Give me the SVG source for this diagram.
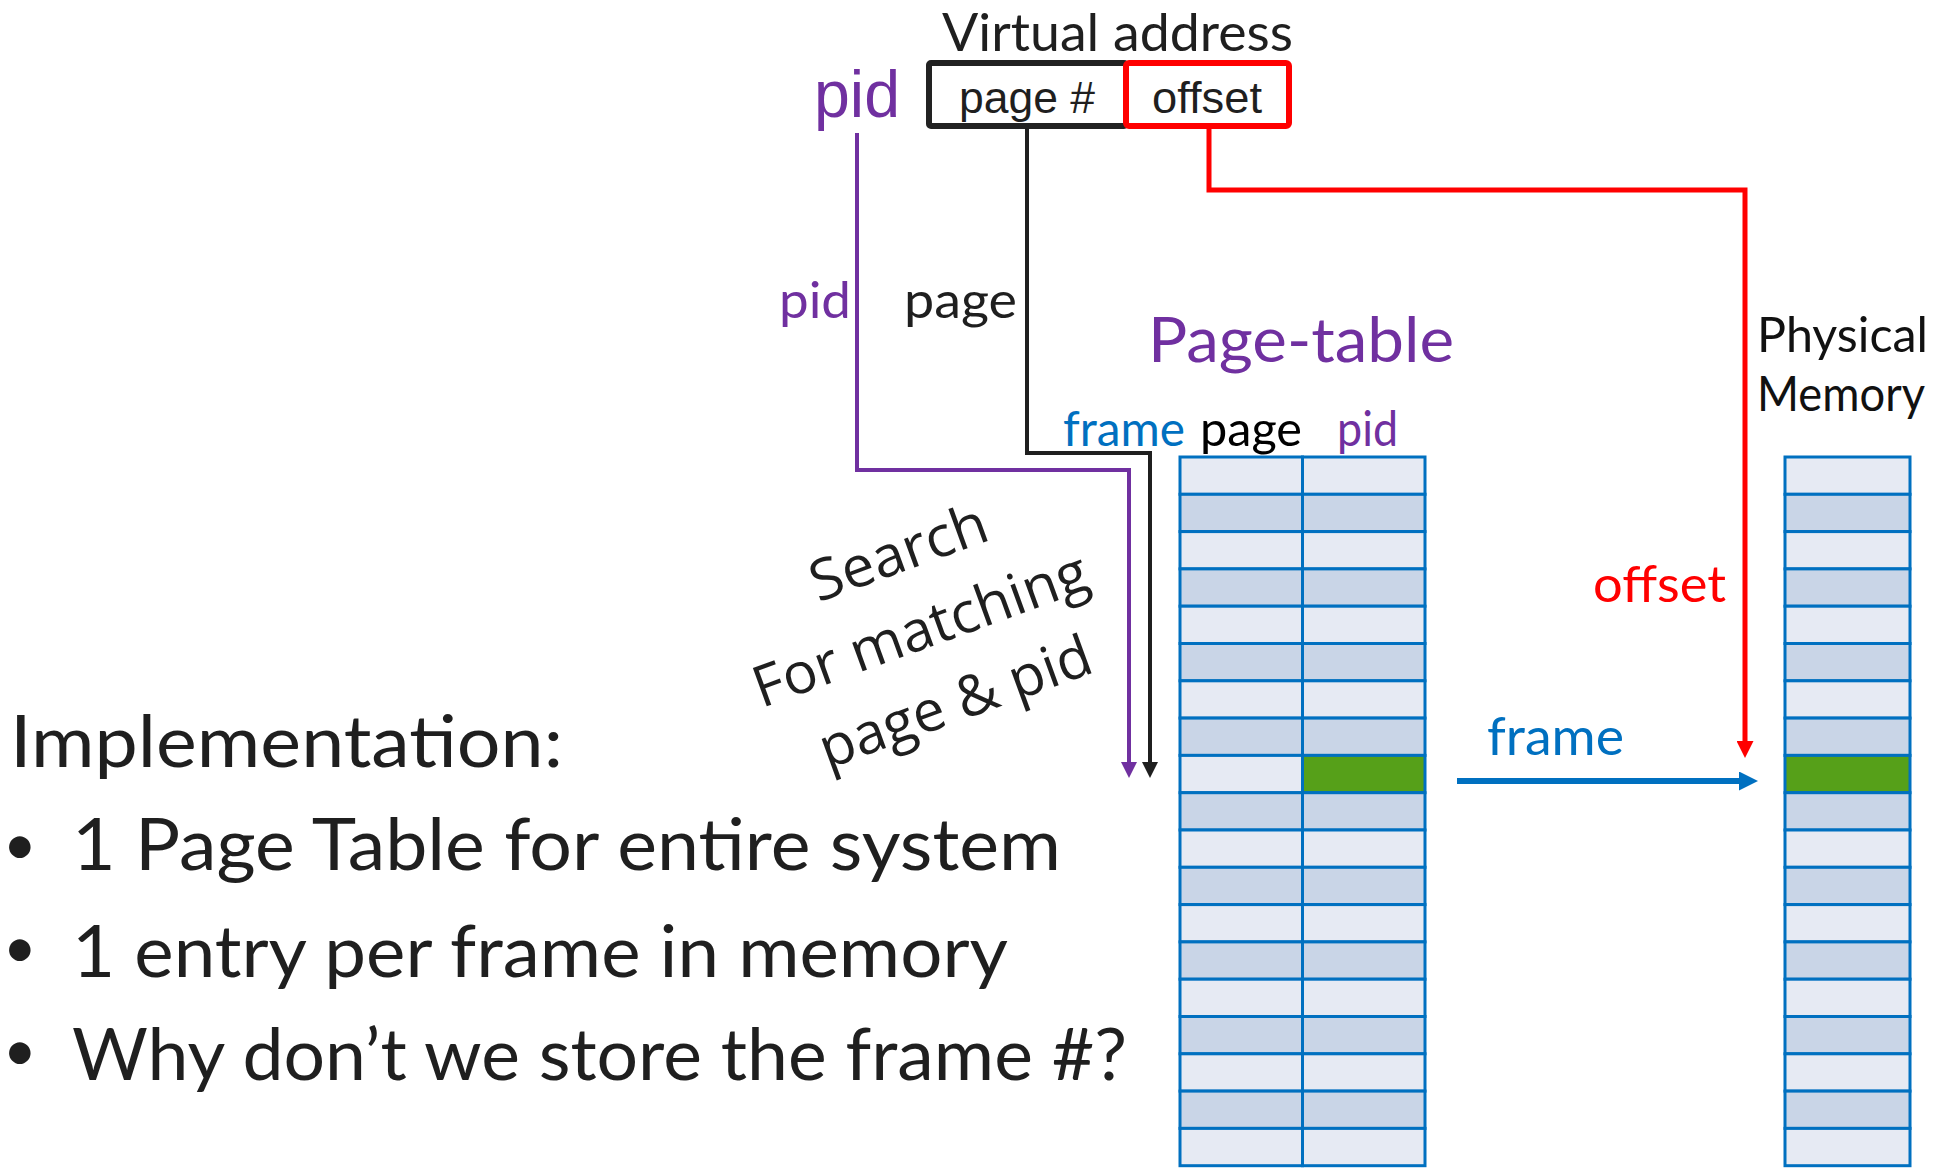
<svg xmlns="http://www.w3.org/2000/svg" width="1952" height="1170" viewBox="0 0 1952 1170">
<style>
.ss{font-family:Lato,"Noto Sans",sans-serif}
.ar{font-family:"Liberation Sans",Arial,sans-serif}
.os{font-family:"Open Sans","Noto Sans",sans-serif}
.dk{fill:#1f1f1f}
.pu{fill:#7030A0}
.bl{fill:#0070C0}
.rd{fill:#FF0000}
.lt{fill:#E6EAF3;stroke:#0070C0;stroke-width:3}
.dr{fill:#C9D5E7;stroke:#0070C0;stroke-width:3}
.gr{fill:#56A019;stroke:#0070C0;stroke-width:3}
.ln{fill:none;stroke-linejoin:miter}
</style>
<defs>
<marker id="aP" markerUnits="userSpaceOnUse" markerWidth="16" markerHeight="16" refX="0" refY="8" orient="auto"><path d="M0,0 L16,8 L0,16 z" fill="#7030A0"/></marker>
<marker id="aK" markerUnits="userSpaceOnUse" markerWidth="16" markerHeight="16" refX="0" refY="8" orient="auto"><path d="M0,0 L16,8 L0,16 z" fill="#1f1f1f"/></marker>
<marker id="aR" markerUnits="userSpaceOnUse" markerWidth="17" markerHeight="17" refX="0" refY="8.5" orient="auto"><path d="M0,0 L17,8.5 L0,17 z" fill="#FF0000"/></marker>
<marker id="aB" markerUnits="userSpaceOnUse" markerWidth="19" markerHeight="19" refX="0" refY="9.5" orient="auto"><path d="M0,0 L19,9.5 L0,19 z" fill="#0070C0"/></marker>
</defs>
<rect width="1952" height="1170" fill="#fff"/>

<g id="virtual-address">
<text class="ss dk" x="942" y="51" font-size="53" textLength="351" lengthAdjust="spacingAndGlyphs">Virtual address</text>
<rect x="929" y="63" width="197" height="63" fill="#fff" stroke="#222" stroke-width="6" rx="2"/>
<rect x="1126" y="63" width="163" height="63" fill="#fff" stroke="#FF0000" stroke-width="6" rx="3"/>
<text class="ar dk" x="959" y="113" font-size="44" textLength="136" lengthAdjust="spacingAndGlyphs">page #</text>
<text class="ar dk" x="1152" y="113" font-size="45" textLength="110" lengthAdjust="spacingAndGlyphs">offset</text>
</g>

<g id="pid-source">
<text class="ar pu" x="814" y="117" font-size="66" textLength="86" lengthAdjust="spacingAndGlyphs">pid</text>
</g>

<g id="connectors">
<path class="ln" d="M857,133 V470 H1129 V762" stroke="#7030A0" stroke-width="4" marker-end="url(#aP)"/>
<path class="ln" d="M1027,128 V453 H1150 V762" stroke="#1f1f1f" stroke-width="4" marker-end="url(#aK)"/>
<path class="ln" d="M1209,128 V190 H1745 V741" stroke="#FF0000" stroke-width="5" marker-end="url(#aR)"/>
<path class="ln" d="M1457,781 H1739" stroke="#0070C0" stroke-width="6" marker-end="url(#aB)"/>
<text class="ss pu" x="779" y="318" font-size="50" textLength="72" lengthAdjust="spacingAndGlyphs">pid</text>
<text class="ss dk" x="904" y="318" font-size="50" textLength="113" lengthAdjust="spacingAndGlyphs">page</text>
<text class="ss rd" x="1593" y="602" font-size="51" textLength="133" lengthAdjust="spacingAndGlyphs">offset</text>
<text class="ss bl" x="1487" y="755" font-size="52" textLength="137" lengthAdjust="spacingAndGlyphs">frame</text>
</g>

<g id="search-note" transform="rotate(-20 927 648)">
<text class="os dk" x="933" y="568" font-size="57" text-anchor="middle" textLength="185" lengthAdjust="spacingAndGlyphs">Search</text>
<text class="os dk" x="927" y="648" font-size="57" text-anchor="middle" textLength="352" lengthAdjust="spacingAndGlyphs">For matching</text>
<text class="os dk" x="935" y="728" font-size="57" text-anchor="middle" textLength="286" lengthAdjust="spacingAndGlyphs">page &amp; pid</text>
</g>

<g id="page-table">
<text class="ss pu" x="1148" y="362" font-size="62" textLength="306" lengthAdjust="spacingAndGlyphs">Page-table</text>
<text class="ss bl" x="1063" y="446" font-size="48" textLength="122" lengthAdjust="spacingAndGlyphs">frame</text>
<text class="ss" x="1200" y="446" font-size="48" fill="#000" textLength="102" lengthAdjust="spacingAndGlyphs">page</text>
<text class="ss pu" x="1337" y="446" font-size="48" textLength="61" lengthAdjust="spacingAndGlyphs">pid</text>
<rect class="lt" x="1180" y="457" width="122.5" height="37.3"/><rect class="lt" x="1302.5" y="457" width="122.5" height="37.3"/>
<rect class="dr" x="1180" y="494.3" width="122.5" height="37.3"/><rect class="dr" x="1302.5" y="494.3" width="122.5" height="37.3"/>
<rect class="lt" x="1180" y="531.6" width="122.5" height="37.3"/><rect class="lt" x="1302.5" y="531.6" width="122.5" height="37.3"/>
<rect class="dr" x="1180" y="568.9" width="122.5" height="37.3"/><rect class="dr" x="1302.5" y="568.9" width="122.5" height="37.3"/>
<rect class="lt" x="1180" y="606.2" width="122.5" height="37.3"/><rect class="lt" x="1302.5" y="606.2" width="122.5" height="37.3"/>
<rect class="dr" x="1180" y="643.5" width="122.5" height="37.3"/><rect class="dr" x="1302.5" y="643.5" width="122.5" height="37.3"/>
<rect class="lt" x="1180" y="680.8" width="122.5" height="37.3"/><rect class="lt" x="1302.5" y="680.8" width="122.5" height="37.3"/>
<rect class="dr" x="1180" y="718.1" width="122.5" height="37.3"/><rect class="dr" x="1302.5" y="718.1" width="122.5" height="37.3"/>
<rect class="lt" x="1180" y="755.4" width="122.5" height="37.3"/><rect class="gr" x="1302.5" y="755.4" width="122.5" height="37.3"/>
<rect class="dr" x="1180" y="792.7" width="122.5" height="37.3"/><rect class="dr" x="1302.5" y="792.7" width="122.5" height="37.3"/>
<rect class="lt" x="1180" y="830" width="122.5" height="37.3"/><rect class="lt" x="1302.5" y="830" width="122.5" height="37.3"/>
<rect class="dr" x="1180" y="867.3" width="122.5" height="37.3"/><rect class="dr" x="1302.5" y="867.3" width="122.5" height="37.3"/>
<rect class="lt" x="1180" y="904.6" width="122.5" height="37.3"/><rect class="lt" x="1302.5" y="904.6" width="122.5" height="37.3"/>
<rect class="dr" x="1180" y="941.9" width="122.5" height="37.3"/><rect class="dr" x="1302.5" y="941.9" width="122.5" height="37.3"/>
<rect class="lt" x="1180" y="979.2" width="122.5" height="37.3"/><rect class="lt" x="1302.5" y="979.2" width="122.5" height="37.3"/>
<rect class="dr" x="1180" y="1016.5" width="122.5" height="37.3"/><rect class="dr" x="1302.5" y="1016.5" width="122.5" height="37.3"/>
<rect class="lt" x="1180" y="1053.8" width="122.5" height="37.3"/><rect class="lt" x="1302.5" y="1053.8" width="122.5" height="37.3"/>
<rect class="dr" x="1180" y="1091.1" width="122.5" height="37.3"/><rect class="dr" x="1302.5" y="1091.1" width="122.5" height="37.3"/>
<rect class="lt" x="1180" y="1128.4" width="122.5" height="37.3"/><rect class="lt" x="1302.5" y="1128.4" width="122.5" height="37.3"/>
</g>

<g id="physical-memory">
<text class="ss" x="1757" y="352" font-size="49" fill="#111" textLength="171" lengthAdjust="spacingAndGlyphs">Physical</text>
<text class="ss" x="1757" y="411" font-size="49" fill="#111" textLength="168" lengthAdjust="spacingAndGlyphs">Memory</text>
<rect class="lt" x="1785" y="457" width="125" height="37.3"/>
<rect class="dr" x="1785" y="494.3" width="125" height="37.3"/>
<rect class="lt" x="1785" y="531.6" width="125" height="37.3"/>
<rect class="dr" x="1785" y="568.9" width="125" height="37.3"/>
<rect class="lt" x="1785" y="606.2" width="125" height="37.3"/>
<rect class="dr" x="1785" y="643.5" width="125" height="37.3"/>
<rect class="lt" x="1785" y="680.8" width="125" height="37.3"/>
<rect class="dr" x="1785" y="718.1" width="125" height="37.3"/>
<rect class="gr" x="1785" y="755.4" width="125" height="37.3"/>
<rect class="dr" x="1785" y="792.7" width="125" height="37.3"/>
<rect class="lt" x="1785" y="830" width="125" height="37.3"/>
<rect class="dr" x="1785" y="867.3" width="125" height="37.3"/>
<rect class="lt" x="1785" y="904.6" width="125" height="37.3"/>
<rect class="dr" x="1785" y="941.9" width="125" height="37.3"/>
<rect class="lt" x="1785" y="979.2" width="125" height="37.3"/>
<rect class="dr" x="1785" y="1016.5" width="125" height="37.3"/>
<rect class="lt" x="1785" y="1053.8" width="125" height="37.3"/>
<rect class="dr" x="1785" y="1091.1" width="125" height="37.3"/>
<rect class="lt" x="1785" y="1128.4" width="125" height="37.3"/>
</g>

<g id="implementation-notes">
<text class="ss dk" x="10" y="767" font-size="72" textLength="553" lengthAdjust="spacingAndGlyphs">Implementation:</text>
<text class="ss dk" x="3" y="865" font-size="58">•</text>
<text class="ss dk" x="72" y="870" font-size="72" textLength="989" lengthAdjust="spacingAndGlyphs">1 Page Table for entire system</text>
<text class="ss dk" x="3" y="968" font-size="58">•</text>
<text class="ss dk" x="72" y="977" font-size="72" textLength="936" lengthAdjust="spacingAndGlyphs">1 entry per frame in memory</text>
<text class="ss dk" x="3" y="1071" font-size="58">•</text>
<text class="ss dk" x="72" y="1080" font-size="72" textLength="1055" lengthAdjust="spacingAndGlyphs">Why don’t we store the frame #?</text>
</g>
</svg>
